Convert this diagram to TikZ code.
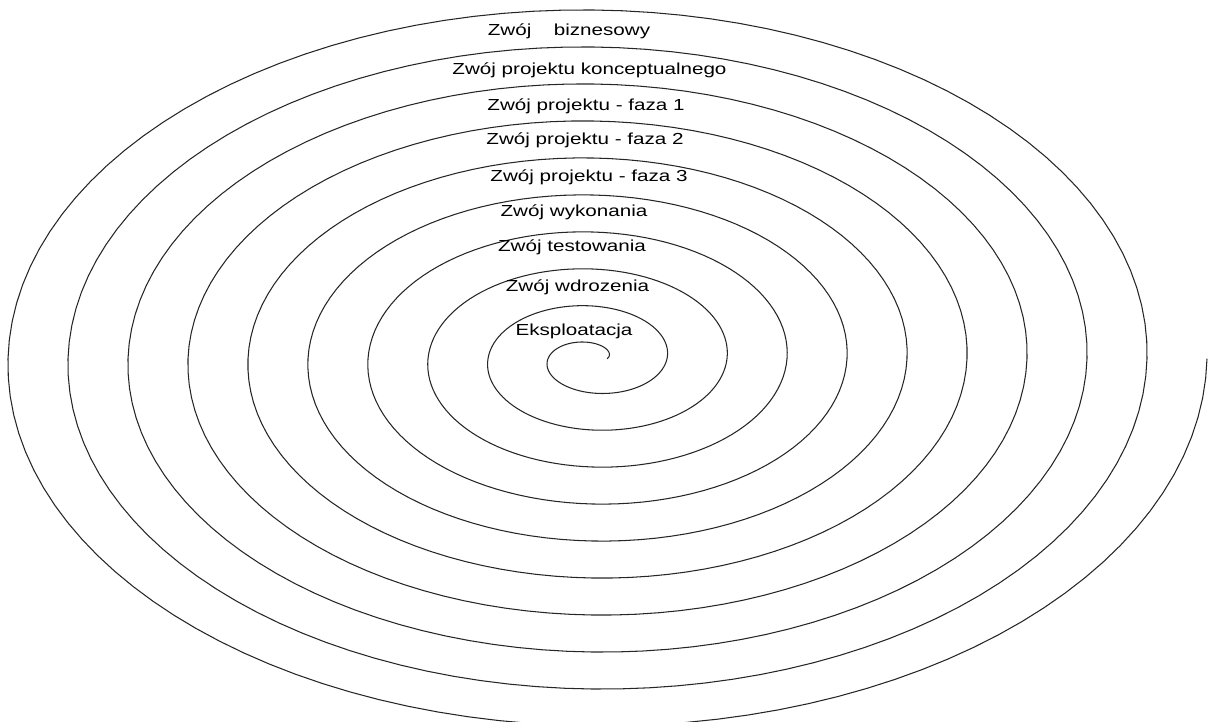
\documentclass[tikz,border=0pt]{standalone}
\usepackage{fontspec}
\newfontfamily\zwojfont[FakeStretch=1.29]{Liberation Sans}

\begin{document}
\begin{tikzpicture}[x=0.02cm, y=-0.02cm,
    zwoj/.style={anchor=base, inner sep=0pt,
      font=\zwojfont\fontsize{9.1pt}{11pt}\selectfont}]
  \useasboundingbox (0,0) rectangle (1208,722);
  \def\cx{592.5}
  \def\cy{358.75}
  % spiral, ten turns from the middle outwards
  \draw[line width=0.6pt, black!85]
    plot[domain=0:3600, samples=1201]
    ({\cx+(14.5+\x/6)*cos(\x)}, {\cy-(6.5+0.102778*\x)*sin(\x)});
  % one label under the top of each turn
  \node[zwoj] (biznes)   at (569,36)    {Zwój\hspace{0.45cm}biznesowy};
  \node[zwoj] (koncept)  at (589.5,75)  {Zwój projektu konceptualnego};
  \node[zwoj] (faza1)    at (586,111)   {Zwój projektu - faza 1};
  \node[zwoj] (faza2)    at (585,144.5) {Zwój projektu - faza 2};
  \node[zwoj] (faza3)    at (589,181.5) {Zwój projektu - faza 3};
  \node[zwoj] (wykon)    at (574,216.5) {Zwój wykonania};
  \node[zwoj] (test)     at (572,251.5) {Zwój testowania};
  \node[zwoj] (wdroz)    at (577.5,291.5) {Zwój wdrozenia};
  \node[zwoj] (eksploat) at (574,335.5) {Eksploatacja};
\end{tikzpicture}
\end{document}
